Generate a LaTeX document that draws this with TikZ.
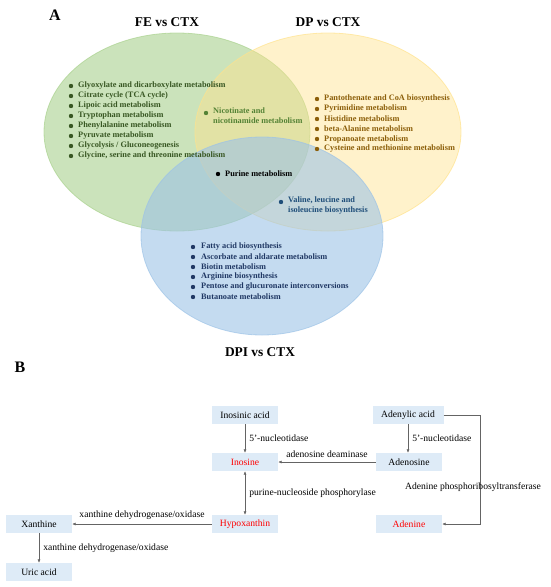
\documentclass[tikz,border=0pt]{standalone}
\usepackage{fontspec}
\setmainfont{Liberation Serif}
\usetikzlibrary{arrows.meta,positioning}

\definecolor{feFill}{RGB}{169,209,142}
\definecolor{dpFill}{RGB}{255,226,140}
\definecolor{dpiFill}{RGB}{157,195,230}
\definecolor{feText}{RGB}{56,87,35}
\definecolor{feMid}{RGB}{84,130,53}
\definecolor{dpText}{RGB}{140,95,10}
\definecolor{dpiText}{RGB}{32,56,100}
\definecolor{valText}{RGB}{31,78,121}
\definecolor{boxFill}{RGB}{222,235,247}
\definecolor{arrowGray}{RGB}{100,100,100}

\begin{document}
\begin{tikzpicture}[x=1pt,y=-1pt,
  venn/.style={line width=0.8pt,fill opacity=0.6,draw opacity=0.7},
  title/.style={font=\bfseries\fontsize{13.4}{15}\selectfont},
  item/.style={anchor=west,inner sep=0pt,font=\bfseries\fontsize{8.3}{10}\selectfont},
  dot/.style={circle,inner sep=0pt,minimum size=4.4pt},
  mbox/.style={fill=boxFill,minimum width=66pt,minimum height=18pt,inner sep=0pt,font=\fontsize{9.6}{11}\selectfont},
  enz/.style={inner sep=1pt,font=\fontsize{9.6}{11}\selectfont},
  flow/.style={draw=arrowGray,line width=0.5pt,-{Latex[length=3.5pt,width=3pt]}}]
\useasboundingbox (0,0) rectangle (550,587);

%Venn
\fill[venn,fill=feFill,draw=feFill] (177,132) ellipse (133 and 99);
\fill[venn,fill=dpFill,draw=dpFill,fill opacity=0.45] (328,132) ellipse (133 and 99);
\fill[venn,fill=dpiFill,draw=dpiFill] (262,236) ellipse (121 and 99);

\node(panelA) at (55,15) {\bfseries\fontsize{16}{18}\selectfont A};
\node[title](fe) at (167,22) {FE vs CTX};
\node[title](dp) at (328,22) {DP vs CTX};
\node[title](dpi) at (260,352) {DPI vs CTX};

%FE only
\foreach \t [count=\i] in {Glyoxylate and dicarboxylate metabolism,Citrate cycle (TCA cycle),Lipoic acid metabolism,Tryptophan metabolism,Phenylalanine metabolism,Pyruvate metabolism,Glycolysis / Gluconeogenesis,{Glycine, serine and threonine metabolism}}
{
\node[dot,fill=feText](fedot\i) at (71,76+10*\i) {};
\node[item,text=feText](fe\i) at (78,76+10*\i) {\t};
}

%DP only
\foreach \t [count=\i] in {Pantothenate and CoA biosynthesis,Pyrimidine metabolism,Histidine metabolism,beta-Alanine metabolism,Propanoate metabolism,Cysteine and methionine metabolism}
{
\node[dot,fill=dpText](dpdot\i) at (317,89+10*\i) {};
\node[item,text=dpText](dp\i) at (324,89+10*\i) {\t};
}

%DPI only
\foreach \t [count=\i] in {Fatty acid biosynthesis,Ascorbate and aldarate metabolism,Biotin metabolism,Arginine biosynthesis,Pentose and glucuronate interconversions,Butanoate metabolism}
{
\node[dot,fill=dpiText](dpidot\i) at (193,237+10*\i) {};
\node[item,text=dpiText](dpi\i) at (201,237+10*\i) {\t};
}

%Overlaps
\node[dot,fill=feMid](nicdot) at (206,113) {};
\node[item,text=feMid,align=left,anchor=north west](nic) at (213,107.5) {Nicotinate and\\nicotinamide metabolism};
\node[dot,fill=black](purdot) at (218,174) {};
\node[item](pur) at (225,174) {Purine metabolism};
\node[dot,fill=valText](valdot) at (281,202) {};
\node[item,text=valText,align=left,anchor=north west](val) at (288,196.5) {Valine, leucine and\\isoleucine biosynthesis};

%Pathway
\node(panelB) at (20,367) {\bfseries\fontsize{16}{18}\selectfont B};
\node[mbox](inosinic) at (245,415) {Inosinic acid};
\node[mbox,text=red](inosine) at (245,462) {Inosine};
\node[mbox,text=red](hypo) at (245,524) {Hypoxanthin};
\node[mbox](xanthine) at (39,524) {Xanthine};
\node[mbox](uric) at (39,572) {Uric acid};
\node[mbox,minimum width=71pt](adenylic) at (408,415) {Adenylic acid};
\node[mbox](adenosine) at (409,462) {Adenosine};
\node[mbox,text=red](adenine) at (409,524) {Adenine};
\coordinate(turn) at (480,415);

\draw[flow] (inosinic) -- node[enz,right,xshift=3pt] {5'-nucleotidase} (inosine);
\draw[flow] (adenylic) -- node[enz,right,xshift=3pt] {5'-nucleotidase} (adenylic |- adenosine.north);
\draw[flow] (adenosine) -- node[enz,above=3pt] {adenosine deaminase} (inosine);
\draw[flow,{Latex[length=3.5pt,width=3pt]}-{Latex[length=3.5pt,width=3pt]}] (inosine) -- node[enz,right,xshift=3pt] {purine-nucleoside phosphorylase} (hypo);
\draw[flow] (hypo) -- node[enz,above=3pt] {xanthine dehydrogenase/oxidase} (xanthine);
\draw[flow] (xanthine) -- node[enz,right,xshift=3pt] {xanthine dehydrogenase/oxidase} (uric);
\draw[flow] (adenylic.east) -- (turn) |- (adenine.east);
\node[enz](aprt) at (473,487) {Adenine phosphoribosyltransferase};

\end{tikzpicture}
\end{document}
